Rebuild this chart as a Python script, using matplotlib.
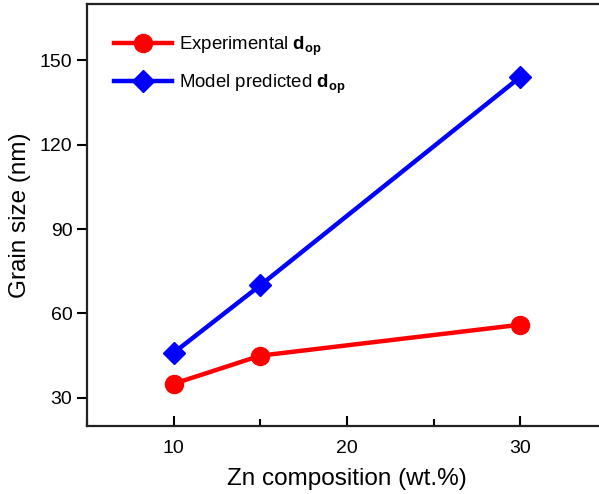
import matplotlib
matplotlib.use("Agg")
import matplotlib.pyplot as plt
from matplotlib.ticker import MultipleLocator

plt.rcParams['font.family'] = ['Liberation Sans', 'DejaVu Sans']
plt.rcParams['mathtext.fontset'] = 'custom'
plt.rcParams['mathtext.rm'] = 'Liberation Sans'
plt.rcParams['mathtext.bf'] = 'Liberation Sans:bold'

zn = [10, 15, 30]
experimental = [35, 45, 56]
model = [46, 70, 144]
xticks = [10, 20, 30]
yticks = [30, 60, 90, 120, 150]

fig = plt.figure(figsize=(5.99, 4.94), dpi=100)
ax = fig.add_axes([87/599, 68/494, (606.75-87)/599, (426-4)/494])

ax.plot(zn, experimental, color='#ff0000', lw=3.2, marker='o', ms=13,
        label=r'Experimental $\mathbf{d}_{\mathbf{op}}$', zorder=3)
ax.plot(zn, model, color='#0000ff', lw=3.2, marker='D', ms=11.5,
        label=r'Model predicted $\mathbf{d}_{\mathbf{op}}$', zorder=3)

ax.set_xlim(5, 35)
ax.set_ylim(20, 170)
ax.set_xticks(xticks)
ax.xaxis.set_minor_locator(MultipleLocator(5))
ax.set_yticks(yticks)
ax.tick_params(axis='x', which='major', direction='in', length=7, width=1.5, labelsize=14, pad=10)
ax.tick_params(axis='x', which='minor', direction='in', length=5, width=1.5)
ax.tick_params(axis='y', which='major', direction='out', length=7, width=1.5, labelsize=14)
for s in ax.spines.values():
    s.set_linewidth(1.6)
    s.set_color('#222222')
ax.spines['right'].set_visible(False)

ax.set_xlabel('Zn composition (wt.%)', fontsize=17.5, labelpad=8)
ax.set_ylabel('Grain size (nm)', fontsize=17.5, labelpad=6)

ax.legend(loc='upper left', bbox_to_anchor=(0.02, 0.968), frameon=False, fontsize=13.4,
          handlelength=3.1, handletextpad=0.4, labelspacing=0.78)

fig.savefig('out.png', dpi=100)
